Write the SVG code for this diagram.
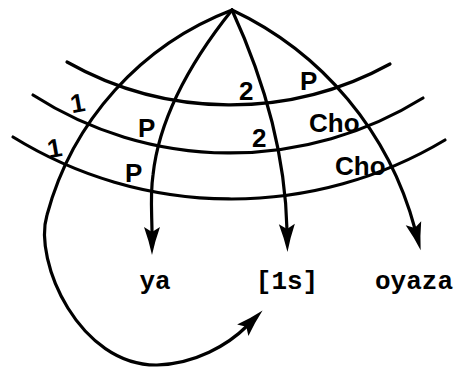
<svg xmlns="http://www.w3.org/2000/svg" width="456" height="369" viewBox="0 0 456 369">
<style>
.ln{fill:none;stroke:#000;stroke-width:3.2;stroke-linecap:round}
.lab{font-family:"Liberation Sans",Arial,sans-serif;font-weight:bold;font-size:26px;fill:#000}
.word{font-family:"Liberation Mono","Courier New",monospace;font-weight:bold;font-size:26px;fill:#000;text-anchor:middle}
</style>
<defs>
<marker id="ah" markerUnits="userSpaceOnUse" markerWidth="30" markerHeight="18" refX="6" refY="8" orient="auto" overflow="visible">
<path d="M0,0 Q14,5 28,8 Q14,11 0,16 L5,8 Z" fill="#000"/>
</marker>
</defs>
<rect width="456" height="369" fill="#fff"/>
<g id="bands">
<path class="ln" d="M67,62 A332,332 0 0 0 390,64"/>
<path class="ln" d="M33,95 A365,365 0 0 0 423,98"/>
<path class="ln" d="M13,137 A416,416 0 0 0 445,140"/>
</g>
<g id="connectors">
<path class="ln" marker-end="url(#ah)" d="M232,10 A304,304 0 0 0 47,215 C33,262 80,366 157,365 C195,364 228,345 247,326"/>
<path class="ln" marker-end="url(#ah)" d="M232,10 C200,50 160,110 153,175 C150,195 152,215 152,233"/>
<path class="ln" marker-end="url(#ah)" d="M232,10 C255,60 285,140 287,230"/>
<path class="ln" marker-end="url(#ah)" d="M232,10 A338,338 0 0 1 415,229"/>
</g>
<g id="labels">
<text class="lab" transform="translate(79,112) rotate(-10)" text-anchor="middle">1</text>
<text class="lab" transform="translate(56,157) rotate(-10)" text-anchor="middle">1</text>
<text class="lab" x="138" y="137">P</text>
<text class="lab" x="125" y="182">P</text>
<text class="lab" x="300" y="90">P</text>
<text class="lab" x="239" y="100">2</text>
<text class="lab" x="252" y="147">2</text>
<text class="lab" x="309" y="132">Cho</text>
<text class="lab" x="335" y="175">Cho</text>
</g>
<g id="node-ya"><text class="word" x="155" y="289">ya</text></g>
<g id="node-1s"><text class="word" x="287" y="289">[1s]</text></g>
<g id="node-oyaza"><text class="word" x="414" y="289">oyaza</text></g>
</svg>
